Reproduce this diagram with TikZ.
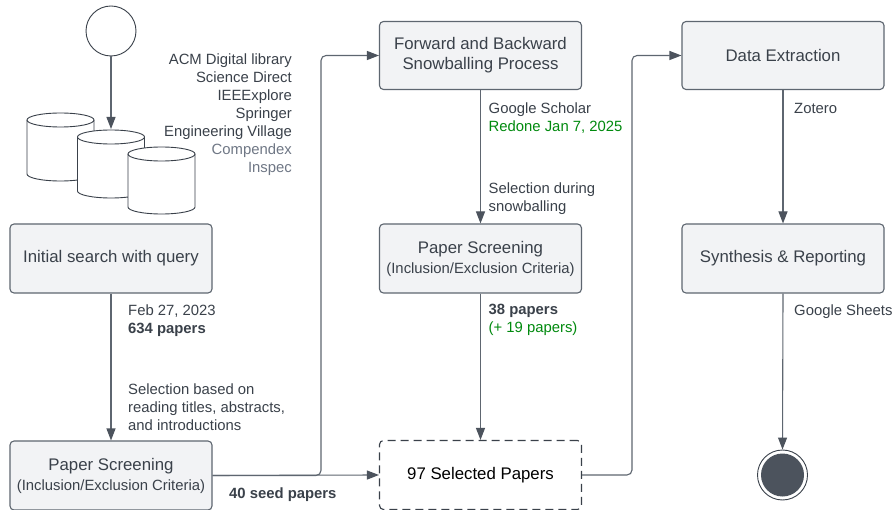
\documentclass[tikz,border=0pt]{standalone}
\usepackage{fontspec}
\setmainfont{Liberation Sans}
\usetikzlibrary{arrows.meta}
\definecolor{ink}{HTML}{3A414A}
\definecolor{edge}{HTML}{5E6670}
\definecolor{soft}{HTML}{6F7785}
\definecolor{boxfill}{HTML}{F2F3F5}
\definecolor{grn}{HTML}{008A0E}
\definecolor{dot}{HTML}{4C535D}
\tikzset{
  x=1pt,y=-1pt,
  flowbox/.style={draw=edge,fill=boxfill,line width=1.1pt,rounded corners=4pt,minimum width=202pt,minimum height=69pt,inner sep=0pt,align=center,text=ink,font=\fontsize{16.8}{20}\selectfont},
  dashbox/.style={flowbox,draw=ink,fill=white,dash pattern=on 8pt off 5pt,text=black},
  conn/.style={draw=edge,line width=1.1pt,rounded corners=5pt,-{Triangle[length=12pt,width=9pt,color=dot]}},
  lab/.style={inner sep=0pt,text=ink,font=\fontsize{14.85}{18}\selectfont},
  can/.style={draw=ink,fill=white,line width=0.9pt}
}
\newcommand{\boxsub}[2]{#1\\[0pt]{\fontsize{14.85}{18}\selectfont #2}}
\newcommand{\dbcan}[3]{%
  \draw[can] (#1,#2) -- (#1,#3) arc[start angle=180,end angle=360,x radius=33.5pt,y radius=7pt] -- (#1+67,#2) arc[start angle=0,end angle=180,x radius=33.5pt,y radius=7pt] -- cycle;
  \draw[can,fill=none] (#1,#2) arc[start angle=180,end angle=360,x radius=33.5pt,y radius=7pt];
}
\begin{document}
\begin{tikzpicture}
\useasboundingbox (0,0) rectangle (894,510);
\fill[white] (0,0) rectangle (894,510);
% databases
\dbcan{27}{120}{174}
\dbcan{77.5}{137}{191}
\dbcan{128}{154}{207}
\node[circle,draw=ink,fill=white,line width=0.9pt,minimum size=50pt,inner sep=0pt] (src) at (111,31) {};
\coordinate (dbtop) at (111,129);
% boxes
\node[flowbox] (init) at (111,258.5) {Initial search with query};
\node[flowbox] (ps1) at (111,475.5) {\boxsub{Paper Screening}{(Inclusion/Exclusion Criteria)}};
\node[flowbox,minimum height=68pt] (fwd) at (480.5,55.5) {Forward and Backward\\Snowballing Process};
\node[flowbox] (ps2) at (480.5,258.5) {\boxsub{Paper Screening}{(Inclusion/Exclusion Criteria)}};
\node[dashbox] (sel) at (480.5,475) {97 Selected Papers};
\node[flowbox,minimum height=68pt] (data) at (783,55.5) {Data Extraction};
\node[flowbox] (syn) at (783,258.5) {Synthesis \& Reporting};
\node[circle,draw=ink,fill=white,line width=0.9pt,minimum size=50pt,inner sep=0pt] (endo) at (782.5,475) {};
\node[circle,fill=dot,minimum size=43pt,inner sep=0pt] (endi) at (782.5,475) {};
\coordinate (b1) at (321,266);
\coordinate (b2) at (632,266);
% connectors
\draw[conn] (src.south) -- (dbtop);
\draw[conn] (init.south) -- (ps1.north);
\draw[conn] (ps1.east) -- (sel.west);
\draw[conn] (ps1.east) -| (b1) |- (fwd.west);
\draw[conn] (fwd.south) -- (ps2.north);
\draw[conn] (ps2.south) -- (sel.north);
\draw[conn] (sel.east) -| (b2) |- (data.west);
\draw[conn] (data.south) -- (syn.north);
\draw[conn] (syn.south) -- (endo.north);
% labels
\node[lab,align=right,anchor=north east] (dbs) at (292,54) {ACM Digital library\\Science Direct\\IEEExplore\\Springer\\Engineering Village\\\textcolor{soft}{Compendex}\\\textcolor{soft}{Inspec}};
\node[lab,align=left,anchor=north west] (l1) at (128,305) {Feb 27, 2023\\\textbf{634 papers}};
\node[lab,align=left,anchor=north west] (l2) at (128,384) {Selection based on\\reading titles, abstracts,\\and introductions};
\node[lab,anchor=north west] (l3) at (229,488) {\textbf{40 seed papers}};
\node[lab,align=left,anchor=north west] (l4) at (488.5,103) {Google Scholar\\\textcolor{grn}{Redone Jan 7, 2025}};
\node[lab,align=left,anchor=north west] (l5) at (488.5,183) {Selection during\\snowballing};
\node[lab,align=left,anchor=north west] (l6) at (488.5,304) {\textbf{38 papers}\\\textcolor{grn}{(+ 19 papers)}};
\node[lab,anchor=north west] (l7) at (794,103) {Zotero};
\node[lab,anchor=north west] (l8) at (794,305) {Google Sheets};
\end{tikzpicture}
\end{document}
